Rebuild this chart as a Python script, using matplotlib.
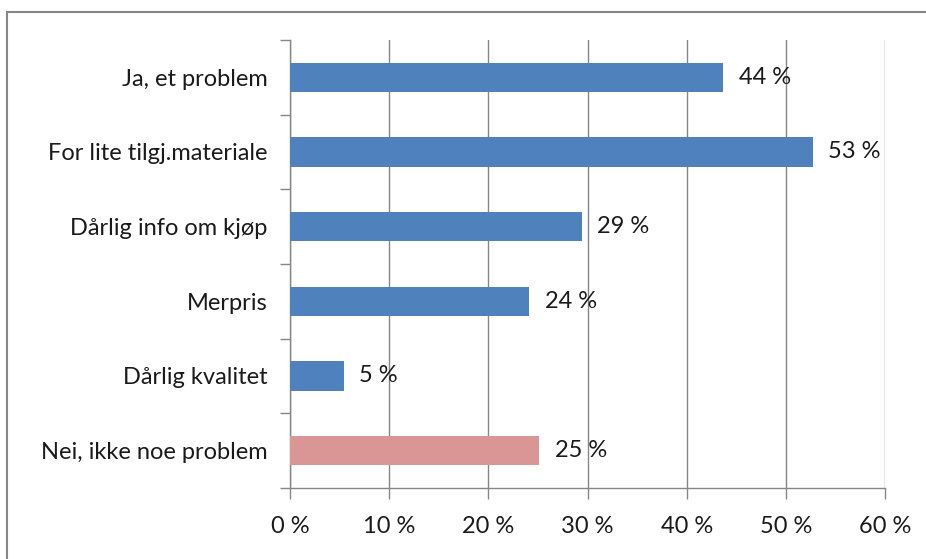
import matplotlib.pyplot as plt
from matplotlib.patches import Rectangle

plt.rcParams['font.family'] = ['Lato', 'DejaVu Sans']

# data (top to bottom)
categories = ['Ja, et problem', 'For lite tilgj.materiale', 'Dårlig info om kjøp',
              'Merpris', 'Dårlig kvalitet', 'Nei, ikke noe problem']
values = [43.7, 52.7, 29.4, 24.1, 5.4, 25.1]
labels = ['44 %', '53 %', '29 %', '24 %', '5 %', '25 %']
colors = ['#4F81BD'] * 5 + ['#D99694']
xticks = [0, 10, 20, 30, 40, 50, 60]

fig = plt.figure(figsize=(9.26, 5.59), dpi=100)
W, H = 926, 559
ax = fig.add_axes([290 / W, 1 - 488 / H, (885 - 290) / W, (488 - 40) / H])

# outer chart frame
fig.patches.append(Rectangle((7 / W, -0.1), 1.1, 1 - 12 / H + 0.1, transform=fig.transFigure,
                             fill=False, edgecolor='#868686', linewidth=1.5))

fs = 17
n = len(categories)
ypos = list(range(n))[::-1]
ax.barh(ypos, values, height=0.39, color=colors, zorder=3)
for y, v, t in zip(ypos, values, labels):
    ax.text(v + 1.6, y, t, va='center', ha='left', fontsize=fs, color='#1a1a1a', zorder=4)

ax.set_xlim(0, 60)
ax.set_ylim(-0.5, n - 0.5)
ax.set_xticks(xticks)
ax.set_xticklabels([f'{x} %' for x in xticks], fontsize=fs, color='#1a1a1a')
ax.set_yticks(ypos)
ax.set_yticklabels(categories, fontsize=fs, color='#1a1a1a')
ax.set_yticks([i - 0.5 for i in range(n + 1)], minor=True)
ax.tick_params(axis='y', which='major', length=0, pad=16)
ax.tick_params(axis='y', which='minor', length=7, color='#868686', width=1)
ax.tick_params(axis='x', length=8, color='#868686', width=1, pad=12)
ax.grid(axis='x', color='#868686', linewidth=1, zorder=0)

for s in ['top', 'right']:
    ax.spines[s].set_visible(False)
for s in ['left', 'bottom']:
    ax.spines[s].set_color('#868686')
    ax.spines[s].set_linewidth(1)

fig.savefig('out.png', dpi=100)
